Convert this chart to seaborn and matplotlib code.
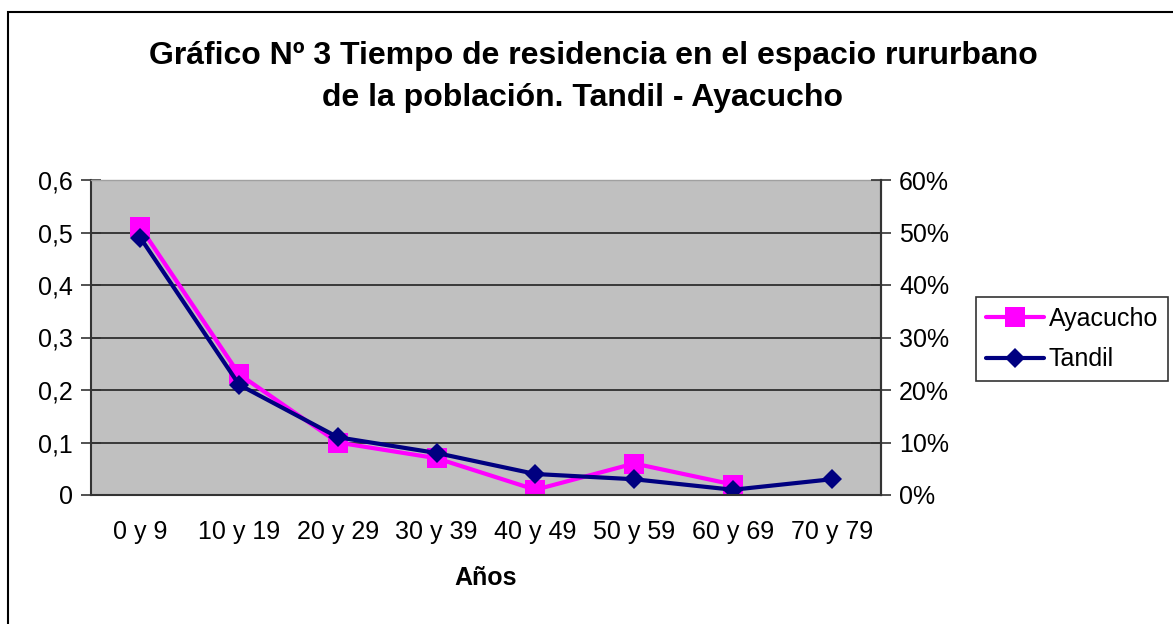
import matplotlib
matplotlib.use("Agg")
import matplotlib.pyplot as plt
import matplotlib.patches as mpatches
from matplotlib.ticker import FuncFormatter
import seaborn as sns
import pandas as pd
import numpy as np

categories = ["0 y 9", "10 y 19", "20 y 29", "30 y 39", "40 y 49", "50 y 59", "60 y 69", "70 y 79"]
ayacucho = [0.51, 0.23, 0.10, 0.07, 0.01, 0.06, 0.02, np.nan]
tandil = [0.49, 0.21, 0.11, 0.08, 0.04, 0.03, 0.01, 0.03]
left_ticks = [0, 0.1, 0.2, 0.3, 0.4, 0.5, 0.6]

sns.set_style("white")
plt.rcParams['font.family'] = ['Liberation Sans', 'DejaVu Sans']
plt.rcParams.update({"text.color": "black", "axes.labelcolor": "black",
                     "xtick.color": "black", "ytick.color": "black"})

W, H = 1173, 624
fig = plt.figure(figsize=(W / 100, H / 100), dpi=100)
ax = fig.add_axes([91 / W, 1 - 495 / H, (881 - 91) / W, (495 - 180) / H])
ax.set_facecolor("#C0C0C0")

df = pd.DataFrame({"cat": categories, "Ayacucho": ayacucho, "Tandil": tandil})
df_a = df.dropna(subset=["Ayacucho"])

ax.set_xticks(range(len(categories)))
sns.lineplot(data=df_a, x="cat", y="Ayacucho", ax=ax, color="#FF00FF", lw=3,
             marker="s", markersize=15, markeredgewidth=0, label="Ayacucho", sort=False)
sns.lineplot(data=df, x="cat", y="Tandil", ax=ax, color="#000080", lw=3,
             marker="D", markersize=10.5, markeredgewidth=0, label="Tandil", sort=False)

ax.set_xlim(-0.5, len(categories) - 0.5)
ax.set_ylim(0, 0.6)
ax.set_yticks(left_ticks)
ax.yaxis.set_major_formatter(FuncFormatter(lambda v, p: ("0" if v == 0 else f"{v:.1f}".replace(".", ","))))
ax.set_xticks(np.arange(len(categories) + 1) - 0.5, minor=True)
ax.set_xticks(range(len(categories)))
ax.set_xticklabels(categories)
ax.tick_params(axis="x", which="major", length=0, labelsize=18, pad=18)
ax.tick_params(axis="x", which="minor", length=15, direction="inout", width=1.2, color="#333333")
ax.tick_params(axis="y", length=14, direction="inout", width=1.2, labelsize=18, color="#333333", pad=6)
ax.grid(axis="y", color="#222222", lw=1.2)
ax.set_axisbelow(True)
for s in ["left", "bottom", "right"]:
    ax.spines[s].set_color("#333333")
    ax.spines[s].set_linewidth(1.5)
ax.spines["top"].set_color("#A0A0A0")
ax.spines["top"].set_linewidth(1)

ax.set_xlabel("Años", fontsize=18, fontweight="bold", labelpad=16)
ax.set_ylabel("")
ax.get_legend().remove()

ax2 = ax.twinx()
ax2.set_ylim(0, 0.6)
ax2.set_yticks(left_ticks)
ax2.yaxis.set_major_formatter(FuncFormatter(lambda v, p: f"{round(v * 100):d}%"))
ax2.tick_params(axis="y", length=14, direction="inout", width=1.2, labelsize=18, color="#333333", pad=6)
for s in ["left", "bottom", "top"]:
    ax2.spines[s].set_visible(False)
ax2.spines["right"].set_color("#333333")
ax2.spines["right"].set_linewidth(1.5)

handles, labels = ax.get_legend_handles_labels()
leg = fig.legend(handles, labels, loc="upper left", bbox_to_anchor=(976 / W, 1 - 297 / H),
                 fontsize=18, frameon=True, fancybox=False, edgecolor="black",
                 handlelength=2.3, handletextpad=0.2, borderpad=0.4, labelspacing=0.65,
                 borderaxespad=0)
leg.get_frame().set_linewidth(1.2)

fig.text(593 / W, 1 - 56 / H, "Gráfico Nº 3 Tiempo de residencia en el espacio rururbano",
         ha="center", va="center", fontsize=23, fontweight="bold")
fig.text(582 / W, 1 - 98 / H, "de la población. Tandil - Ayacucho",
         ha="center", va="center", fontsize=23, fontweight="bold")

border = mpatches.Rectangle((8 / W, -0.1), 1.2, (H - 12) / H + 0.1, transform=fig.transFigure,
                            fill=False, edgecolor="black", lw=1.5, clip_on=False)
fig.patches.append(border)

fig.savefig("out.png", dpi=100)
